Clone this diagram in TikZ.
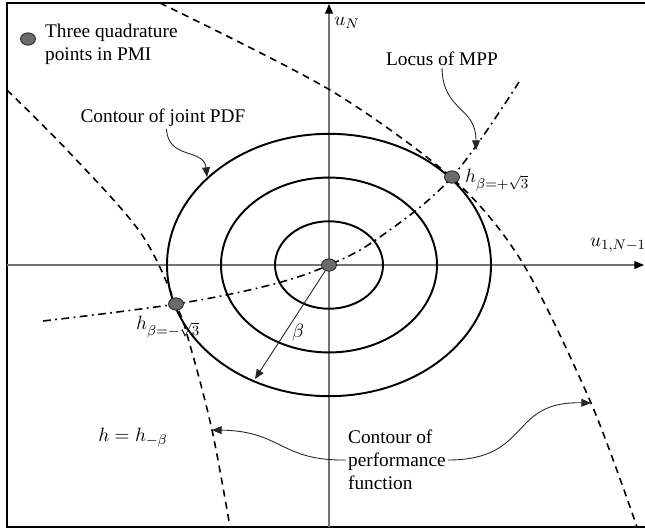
\documentclass[tikz,border=0pt]{standalone}
\usepackage{amsmath}
\usepackage{fontspec}
\setmainfont{Liberation Serif}
\usepackage{tikz}
\usetikzlibrary{arrows.meta,shapes.geometric}
\tikzset{
  axisline/.style={black!55, line width=0.6pt},
  pdfline/.style={black, line width=1.1pt},
  pfcurve/.style={black, line width=0.9pt, dash pattern=on 4pt off 3pt},
  mppcurve/.style={black, line width=0.9pt,
                   dash pattern=on 4.5pt off 2.5pt on 1pt off 2.5pt},
  qdot/.style={ellipse, draw=black!85, fill=black!58, line width=0.5pt,
               minimum width=8.5pt, minimum height=7pt, inner sep=0pt},
  callout/.style={-{Triangle[length=5.5pt,width=4.5pt]}, black!85, line width=0.5pt},
  tlabel/.style={font=\fontsize{11}{13}\selectfont, inner sep=1pt},
}

\begin{document}
\begin{tikzpicture}[x=0.02cm,y=-0.02cm]
  \useasboundingbox (0,0) rectangle (645,531);
  % --- frame ---
  \draw[line width=0.9pt] (645,3) -- (7,3) -- (7,527) -- (645,527);

  % --- axes ---
  \coordinate (xl) at (7,265);
  \coordinate (xr) at (644,265);
  \coordinate (yb) at (329,527);
  \coordinate (yt) at (329,4);
  \draw[axisline, -{Triangle[length=5.5pt,width=4.5pt,color=black]}] (xl) -- (xr);
  \draw[axisline, -{Triangle[length=5.5pt,width=4.5pt,color=black]}] (yb) -- (yt);
  \node[tlabel] (uN) at (347,23) {$u_N$};
  \node[tlabel, anchor=west] (u1) at (588,245) {$u_{1,N-1}$};

  % --- contours of joint PDF ---
  \foreach \rx in {54,108,162}{
    \draw[pdfline] (329,265) ellipse [x radius=\rx, y radius=\rx/1.235];
  }

  % --- performance function contours ---
  \draw[pfcurve] plot[smooth, tension=0.5] coordinates
    {(160,3) (330,90) (452,178) (522,262) (591,403) (637,527)};
  \draw[pfcurve] plot[smooth, tension=0.55] coordinates
    {(7,90) (67,150) (140,232) (176,304) (190,345) (212,430) (230,527)};

  % --- locus of MPP ---
  \draw[mppcurve] plot[smooth, tension=0.6] coordinates
    {(43,321) (176,304) (270,285) (329,265) (380,237) (452,177) (519,82)};

  % --- quadrature points ---
  \node[qdot] (q0) at (329,265) {};
  \node[qdot] (qp) at (452,177) {};
  \node[qdot] (qm) at (176,304) {};
  \node[tlabel, anchor=west] (hp) at (463,180) {$h_{\beta=+\sqrt{3}}$};
  \node[tlabel, anchor=west] (hm) at (134,327) {$h_{\beta=-\sqrt{3}}$};

  % --- radius beta ---
  \coordinate (btip) at (255,379);
  \draw[callout] (q0) -- (btip);
  \node[tlabel] (blbl) at (298,333) {$\beta$};

  % --- legend ---
  \node[qdot] (legdot) at (28,39) {};
  \node[tlabel, anchor=west, align=left] (legtxt) at (43,44)
    {Three quadrature\\points in PMI};

  % --- callouts ---
  \node[tlabel] (pdflbl) at (163,118) {Contour of joint PDF};
  \coordinate (pdftip) at (207,177);
  \draw[callout] ([xshift=2pt]pdflbl.south) .. controls (168,160) and (204,148) .. (pdftip);

  \node[tlabel] (mpplbl) at (442,59) {Locus of MPP};
  \coordinate (mpptip) at (476,150);
  \draw[callout] (mpplbl.south) .. controls (443,112) and (476,106) .. (mpptip);

  \node[tlabel] (hlbl) at (133,438) {$h = h_{-\beta}$};

  \node[tlabel, anchor=west, align=left] (perflbl) at (346,460)
    {Contour of\\performance\\function};
  \coordinate (pfl) at (212,430);
  \coordinate (pfr) at (591,403);
  \draw[callout] (perflbl.west) .. controls (280,461) and (282,431) .. (pfl);
  \draw[callout] (perflbl.east) .. controls (532,460) and (508,401) .. (pfr);
\end{tikzpicture}
\end{document}
